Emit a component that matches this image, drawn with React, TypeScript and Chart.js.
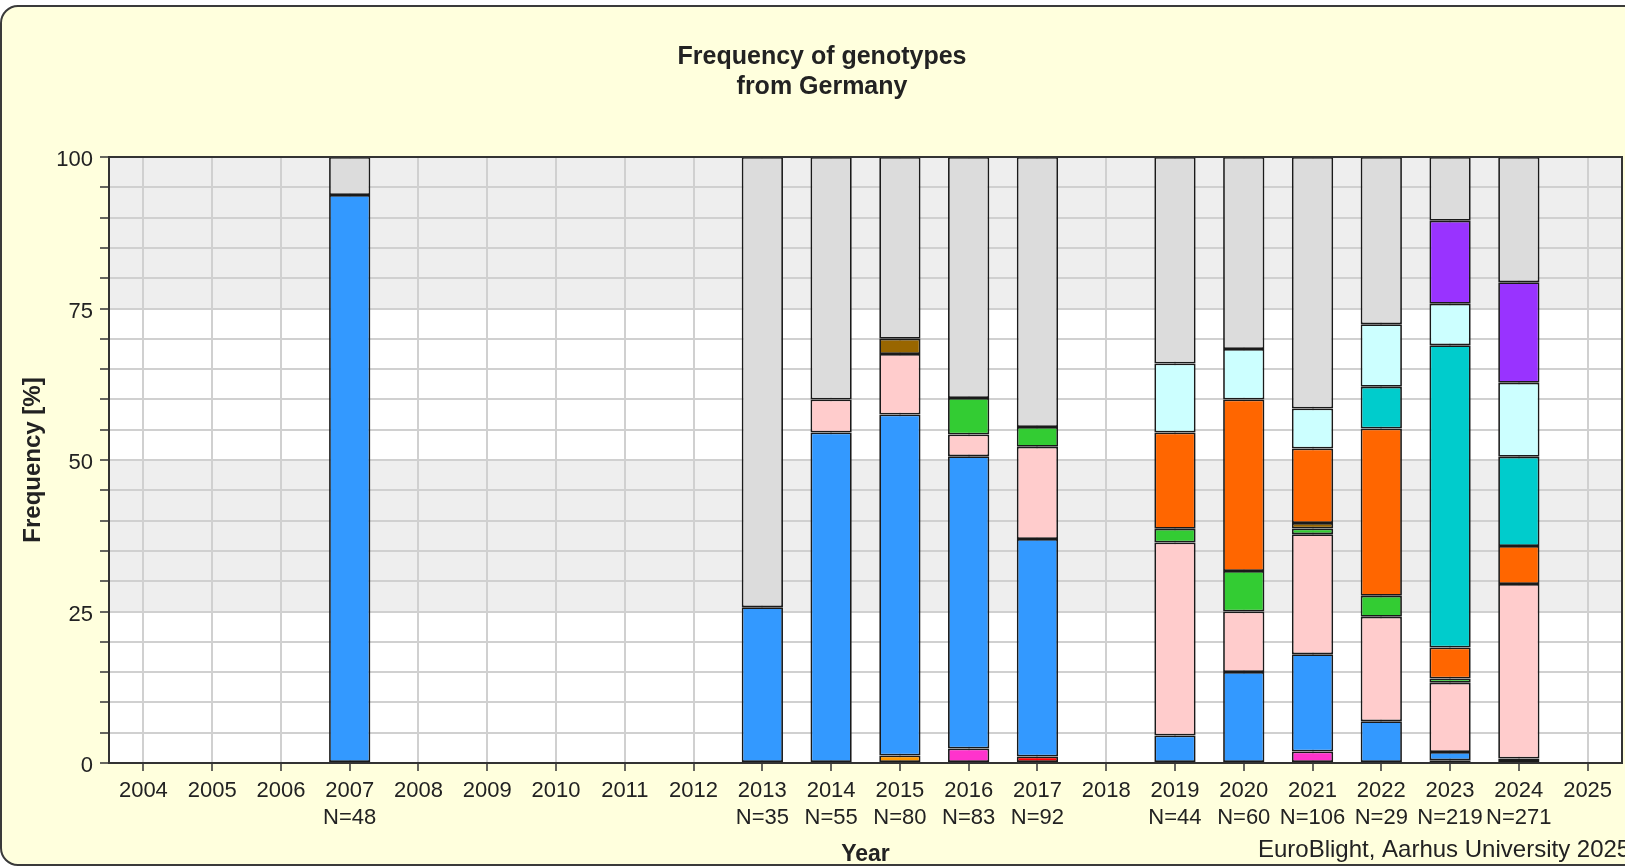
import React, { useEffect, useRef } from 'react';
import { Chart, registerables } from 'chart.js';

Chart.register(...registerables);

// ---------- data ----------
const years = [
  '2004', '2005', '2006', '2007', '2008', '2009', '2010', '2011', '2012', '2013', '2014',
  '2015', '2016', '2017', '2018', '2019', '2020', '2021', '2022', '2023', '2024', '2025',
];
const sampleSizes = [
  '', '', '', 'N=48', '', '', '', '', '', 'N=35', 'N=55',
  'N=80', 'N=83', 'N=92', '', 'N=44', 'N=60', 'N=106', 'N=29', 'N=219', 'N=271', '',
];

type V = number | null;
const _ = null;
//                        04 05 06  07    08 09 10 11 12  13     14     15     16     17     18  19     20     21     22     23     24     25
const navyValues: V[] =       [_, _, _, _,     _, _, _, _, _, _,     _,     _,     _,     _,     _, _,     _,     _,     _,     0.46,  _,     _];
const lightOrangeValues: V[] = [_, _, _, _,     _, _, _, _, _, _,     _,     1.25,  _,     _,     _, _,     _,     _,     _,     _,     _,     _];
const magentaValues: V[] =    [_, _, _, _,     _, _, _, _, _, _,     _,     _,     2.41,  _,     _, _,     _,     1.89,  _,     _,     _,     _];
const redValues: V[] =        [_, _, _, _,     _, _, _, _, _, _,     _,     _,     _,     1.09,  _, _,     _,     _,     _,     _,     _,     _];
const blueValues: V[] =       [_, _, _, 93.75, _, _, _, _, _, 25.71, 54.55, 56.25, 48.19, 35.87, _, 4.55,  15.0,  16.04, 6.9,   1.37,  0.74,  _];
const pinkValues: V[] =       [_, _, _, _,     _, _, _, _, _, _,     5.45,  10.0,  3.61,  15.22, _, 31.82, 10.0,  19.81, 17.24, 11.42, 28.78, _];
const greenValues: V[] =      [_, _, _, _,     _, _, _, _, _, _,     _,     _,     6.02,  3.26,  _, 2.27,  6.67,  0.94,  3.45,  0.7,   _,     _];
const brownValues: V[] =      [_, _, _, _,     _, _, _, _, _, _,     _,     2.5,   _,     _,     _, _,     _,     0.94,  _,     _,     _,     _];
const orangeValues: V[] =     [_, _, _, _,     _, _, _, _, _, _,     _,     _,     _,     _,     _, 15.91, 28.33, 12.26, 27.59, 5.1,   6.27,  _];
const tealValues: V[] =       [_, _, _, _,     _, _, _, _, _, _,     _,     _,     _,     _,     _, _,     _,     _,     6.9,   49.9,  14.76, _];
const lightCyanValues: V[] =  [_, _, _, _,     _, _, _, _, _, _,     _,     _,     _,     _,     _, 11.36, 8.33,  6.6,   10.34, 6.85,  12.18, _];
const purpleValues: V[] =     [_, _, _, _,     _, _, _, _, _, _,     _,     _,     _,     _,     _, _,     _,     _,     _,     13.7,  16.61, _];
const otherValues: V[] =      [_, _, _, 6.25,  _, _, _, _, _, 74.29, 40.0,  30.0,  39.76, 44.57, _, 34.09, 31.67, 41.51, 27.59, 10.5,  20.66, _];

const yTicksLabelled = [0, 25, 50, 75, 100];
const shadedBands: [number, number][] = [[25, 50], [75, 100]];

const titleLines = ['Frequency of genotypes', 'from Germany'];
const yTitle = 'Frequency [%]';
const xTitle = 'Year';
const footer = 'EuroBlight, Aarhus University 2025';

const FONT = "'Liberation Sans', Arial, Helvetica, sans-serif";
const TEXT = '#222222';

export default function App() {
  const ref = useRef<HTMLCanvasElement>(null);

  useEffect(() => {
    const canvas = ref.current;
    if (!canvas) return;

    const labels = years.map((y, i) => (sampleSizes[i] ? [y, sampleSizes[i]] : y));

    const series = [
      { label: 'navy', data: navyValues, color: '#000080' },
      { label: 'light orange', data: lightOrangeValues, color: '#ff9900' },
      { label: 'magenta', data: magentaValues, color: '#ff33cc' },
      { label: 'red', data: redValues, color: '#ff0000' },
      { label: 'blue', data: blueValues, color: '#3399ff' },
      { label: 'pink', data: pinkValues, color: '#ffcccc' },
      { label: 'green', data: greenValues, color: '#33cc33' },
      { label: 'brown', data: brownValues, color: '#996600' },
      { label: 'orange', data: orangeValues, color: '#ff6600' },
      { label: 'teal', data: tealValues, color: '#00cccc' },
      { label: 'light cyan', data: lightCyanValues, color: '#ccffff' },
      { label: 'purple', data: purpleValues, color: '#9933ff' },
      { label: 'other', data: otherValues, color: '#dcdcdc' },
    ];

    const decorPlugin = {
      id: 'decor',
      beforeDraw(chart: any) {
        const { ctx, chartArea: a, scales } = chart;
        const y = scales.y;
        ctx.save();
        ctx.fillStyle = '#ffffff';
        ctx.fillRect(a.left, a.top, a.right - a.left, a.bottom - a.top);
        ctx.fillStyle = '#eeeeee';
        for (const [lo, hi] of shadedBands) {
          const y1 = y.getPixelForValue(hi);
          const y2 = y.getPixelForValue(lo);
          ctx.fillRect(a.left, y1, a.right - a.left, y2 - y1);
        }
        ctx.restore();
      },
      afterDraw(chart: any) {
        const { ctx, chartArea: a } = chart;
        ctx.save();
        // plot border
        ctx.strokeStyle = '#333333';
        ctx.lineWidth = 2;
        ctx.strokeRect(a.left, a.top, a.right - a.left, a.bottom - a.top);
        // title
        ctx.fillStyle = TEXT;
        ctx.textAlign = 'center';
        ctx.textBaseline = 'alphabetic';
        ctx.font = `bold 25px ${FONT}`;
        ctx.fillText(titleLines[0], 822, 63.5);
        ctx.fillText(titleLines[1], 822, 94);
        // footer
        ctx.textAlign = 'left';
        ctx.font = `24px ${FONT}`;
        ctx.fillText(footer, 1258, 857);
        ctx.restore();
      },
    };

    const chart = new Chart(canvas, {
      type: 'bar',
      data: {
        labels,
        datasets: series.map((s) => ({
          label: s.label,
          data: s.data,
          backgroundColor: s.color,
          borderColor: '#1a1a1a',
          borderWidth: 1.75,
          borderSkipped: false,
          barPercentage: 1,
          categoryPercentage: 0.6,
        })),
      },
      options: {
        responsive: false,
        animation: false,
        devicePixelRatio: 1,
        layout: { padding: { top: 157, right: 3, bottom: 0, left: 0 } },
        plugins: {
          legend: { display: false },
          tooltip: { enabled: false },
          title: { display: false },
        },
        scales: {
          x: {
            stacked: true,
            offset: true,
            grid: {
              offset: false,
              color: '#d0d0d0',
              lineWidth: 2,
              tickColor: '#333333',
              tickWidth: 1.5,
              tickLength: 8,
            },
            border: { display: true, color: '#333333', width: 2 },
            ticks: {
              autoSkip: false,
              maxRotation: 0,
              minRotation: 0,
              padding: 7,
              color: TEXT,
              font: { family: FONT, size: 22, lineHeight: 1.2 },
            },
            title: {
              display: true,
              text: xTitle,
              color: TEXT,
              font: { family: FONT, size: 23, weight: 'bold', lineHeight: 1 },
              padding: { top: 0, bottom: 0 },
            },
            afterFit(scale: any) {
              scale.height = 103;
            },
          },
          y: {
            stacked: true,
            min: 0,
            max: 100,
            grid: {
              color: '#d0d0d0',
              lineWidth: 2,
              tickColor: '#333333',
              tickWidth: 1.5,
              tickLength: 9,
            },
            border: { display: true, color: '#333333', width: 2 },
            ticks: {
              stepSize: 5,
              padding: 7,
              labelOffset: 3,
              color: TEXT,
              font: { family: FONT, size: 22 },
              callback: (v: any) => (yTicksLabelled.includes(Number(v)) ? String(v) : ''),
            },
            title: {
              display: true,
              text: yTitle,
              color: TEXT,
              font: { family: FONT, size: 24, weight: 'bold', lineHeight: 1.2 },
              padding: { top: 19, bottom: 0 },
            },
            afterFit(scale: any) {
              scale.width = 109;
            },
          },
        },
      },
      plugins: [decorPlugin],
    } as any);

    return () => chart.destroy();
  }, []);

  return (
    <div
      style={{
        position: 'fixed',
        left: 0,
        top: 0,
        width: 1625,
        height: 866,
        overflow: 'hidden',
        background: '#ffffff',
      }}
    >
      <div
        style={{
          position: 'absolute',
          left: 0,
          top: 5,
          width: 1700,
          height: 861,
          boxSizing: 'border-box',
          border: '2px solid #3a3a3a',
          borderRadius: 18,
          background: '#ffffdd',
        }}
      />
      <canvas
        ref={ref}
        width={1625}
        height={866}
        style={{ position: 'absolute', left: 0, top: 0, width: 1625, height: 866 }}
      />
    </div>
  );
}
